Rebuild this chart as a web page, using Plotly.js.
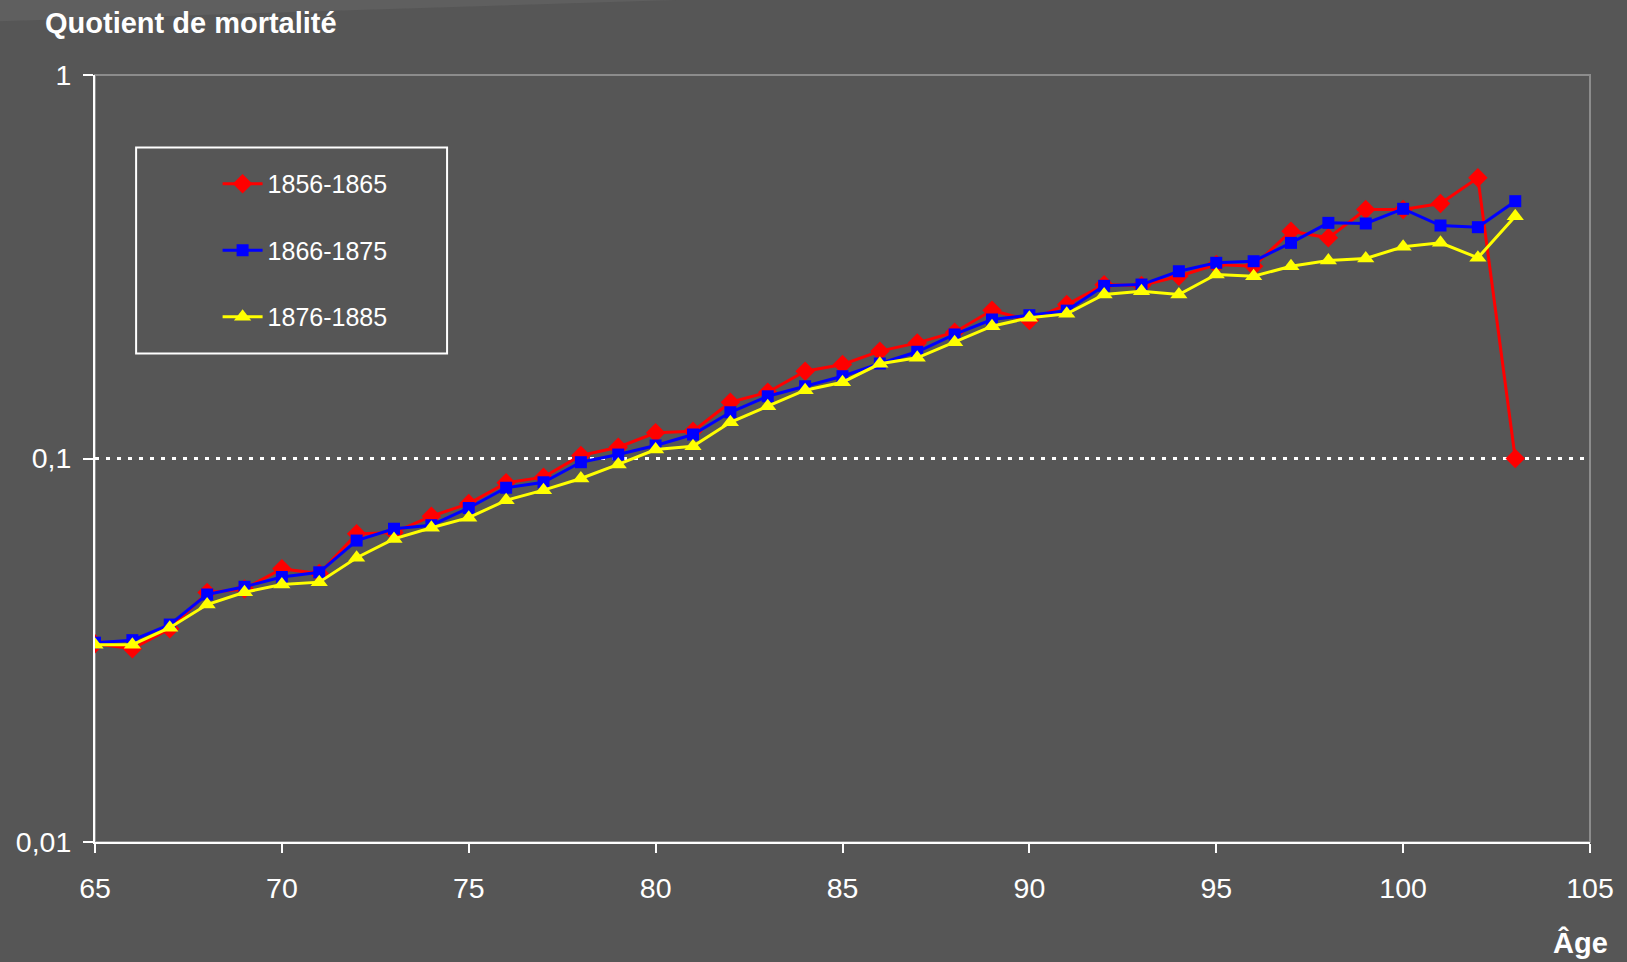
<!DOCTYPE html>
<html>
<head>
<meta charset="utf-8">
<script src="https://cdn.plot.ly/plotly-3.0.1.min.js"></script>
<style>
  html, body { margin: 0; padding: 0; background: #565656; }
  #chart { width: 1627px; height: 962px; }
</style>
</head>
<body>
<div id="chart"></div>
<script>
// Ages (x)
const ages = [65,66,67,68,69,70,71,72,73,74,75,76,77,78,79,80,81,82,83,84,
              85,86,87,88,89,90,91,92,93,94,95,96,97,98,99,100,101,102,103];

// Series names
const seriesNames = ['1856-1865', '1866-1875', '1876-1885'];

// Quotient de mortalité, 1856-1865
const q1856 = [0.0329,0.0319,0.0360,0.0447,0.0457,0.0516,0.0501,0.0636,0.0641,0.0707,
               0.0763,0.0864,0.0894,0.1018,0.1070,0.1167,0.1178,0.1402,0.1489,0.1689,
               0.1759,0.1905,0.2002,0.2135,0.2435,0.2290,0.2520,0.2840,0.2825,0.2987,
               0.3206,0.3173,0.3914,0.3762,0.4459,0.4459,0.4623,0.5396,0.1000];

// Quotient de mortalité, 1866-1875
const q1866 = [0.0331,0.0336,0.0369,0.0442,0.0463,0.0491,0.0505,0.0611,0.0656,0.0670,
               0.0743,0.0839,0.0867,0.0978,0.1024,0.1081,0.1155,0.1320,0.1453,0.1543,
               0.1639,0.1769,0.1898,0.2106,0.2304,0.2364,0.2430,0.2820,0.2842,0.3078,
               0.3238,0.3269,0.3650,0.4116,0.4100,0.4478,0.4051,0.4010,0.4688];

// Quotient de mortalité, 1876-1885
const q1876 = [0.0327,0.0327,0.0362,0.0416,0.0448,0.0469,0.0476,0.0551,0.0617,0.0660,
               0.0701,0.0778,0.0827,0.0887,0.0965,0.1055,0.1076,0.1243,0.1369,0.1507,
               0.1581,0.1766,0.1831,0.2010,0.2213,0.2327,0.2383,0.2677,0.2730,0.2677,
               0.3019,0.2987,0.3173,0.3283,0.3323,0.3565,0.3650,0.3337,0.4282];

// Axis tick labels
const yTickVals = [0.01, 0.1, 1];
const yTickText = ['0,01', '0,1', '1'];
const xTickVals = [65,70,75,80,85,90,95,100,105];
const xTickText = ['65','70','75','80','85','90','95','100','105'];

const FONT = '"Liberation Sans", Arial, sans-serif';

const traces = [
  {x: ages, y: q1856, name: seriesNames[0], mode: 'lines+markers', legendgroup: 'a',
   line: {color: '#FF0000', width: 3},
   marker: {symbol: 'diamond', size: 15, color: '#FF0000'}},
  {x: ages, y: q1866, name: seriesNames[1], mode: 'lines+markers', legendgroup: 'b',
   line: {color: '#0000FF', width: 3},
   marker: {symbol: 'square', size: 12, color: '#0000FF'}},
  {x: ages, y: q1876, name: seriesNames[2], mode: 'lines+markers', legendgroup: 'c',
   line: {color: '#FFFF00', width: 3},
   marker: {symbol: 'triangle-up', size: 15, color: '#FFFF00'}}
];

const layout = {
  width: 1627, height: 962,
  paper_bgcolor: '#565656',
  plot_bgcolor: '#565656',
  margin: {l: 95, r: 37, t: 75, b: 120, pad: 0},
  font: {family: FONT, color: '#FFFFFF', size: 26},
  showlegend: true,
  legend: {
    x: 0.082, y: 0.888, xanchor: 'left', yanchor: 'top',
    bgcolor: 'rgba(0,0,0,0)', borderwidth: 0,
    font: {family: FONT, size: 25, color: '#FFFFFF'},
    tracegroupgap: 31, itemwidth: 40
  },
  xaxis: {
    type: 'linear', range: [65, 105],
    tickvals: xTickVals, ticktext: xTickText,
    showgrid: false, zeroline: false,
    showline: true, linecolor: '#FFFFFF', linewidth: 2,
    ticks: 'outside', ticklen: 9, tickwidth: 2, tickcolor: '#FFFFFF',
    ticklabelstandoff: 11,
    tickfont: {family: FONT, size: 28.5, color: '#FFFFFF'},
    title: {text: ''}
  },
  yaxis: {
    type: 'log', range: [-2, 0],
    tickvals: yTickVals, ticktext: yTickText,
    showgrid: true, gridcolor: '#FFFFFF', gridwidth: 3, griddash: '4px,7px',
    zeroline: false,
    showline: true, linecolor: '#FFFFFF', linewidth: 2,
    ticks: 'outside', ticklen: 10, tickwidth: 2, tickcolor: '#FFFFFF',
    ticklabelstandoff: 6,
    tickfont: {family: FONT, size: 28.5, color: '#FFFFFF'},
    title: {text: ''}
  },
  shapes: [
    // lighter wedge in top-left corner of the background
    {type: 'path', xref: 'paper', yref: 'paper', layer: 'below',
     path: 'M -0.0636 1.0985 L 0.40 1.0985 L -0.0636 1.070 Z',
     fillcolor: '#5f5f5f', line: {width: 0}},
    // gray plot-area border
    {type: 'rect', xref: 'paper', yref: 'paper', layer: 'below',
     x0: 0, x1: 1, y0: 0, y1: 1, line: {color: '#8c8c8c', width: 2}},
    // legend frame
    {type: 'rect', xref: 'paper', yref: 'paper', layer: 'above',
     x0: 0.0275, x1: 0.2355, y0: 0.6369, y1: 0.9055,
     line: {color: '#FFFFFF', width: 2}, fillcolor: 'rgba(0,0,0,0)'}
  ],
  annotations: [
    {text: '<b>Quotient de mortalité</b>', xref: 'paper', yref: 'paper',
     x: -0.0345, y: 1.0985, xanchor: 'left', yanchor: 'top', showarrow: false,
     yshift: -6, font: {family: FONT, size: 29, color: '#FFFFFF'}},
    {text: '<b>Âge</b>', xref: 'paper', yref: 'paper',
     x: 1.0135, y: -0.131, xanchor: 'right', yanchor: 'middle', showarrow: false,
     font: {family: FONT, size: 29, color: '#FFFFFF'}}
  ]
};

Plotly.newPlot('chart', traces, layout, {displayModeBar: false, staticPlot: true});
</script>
</body>
</html>
